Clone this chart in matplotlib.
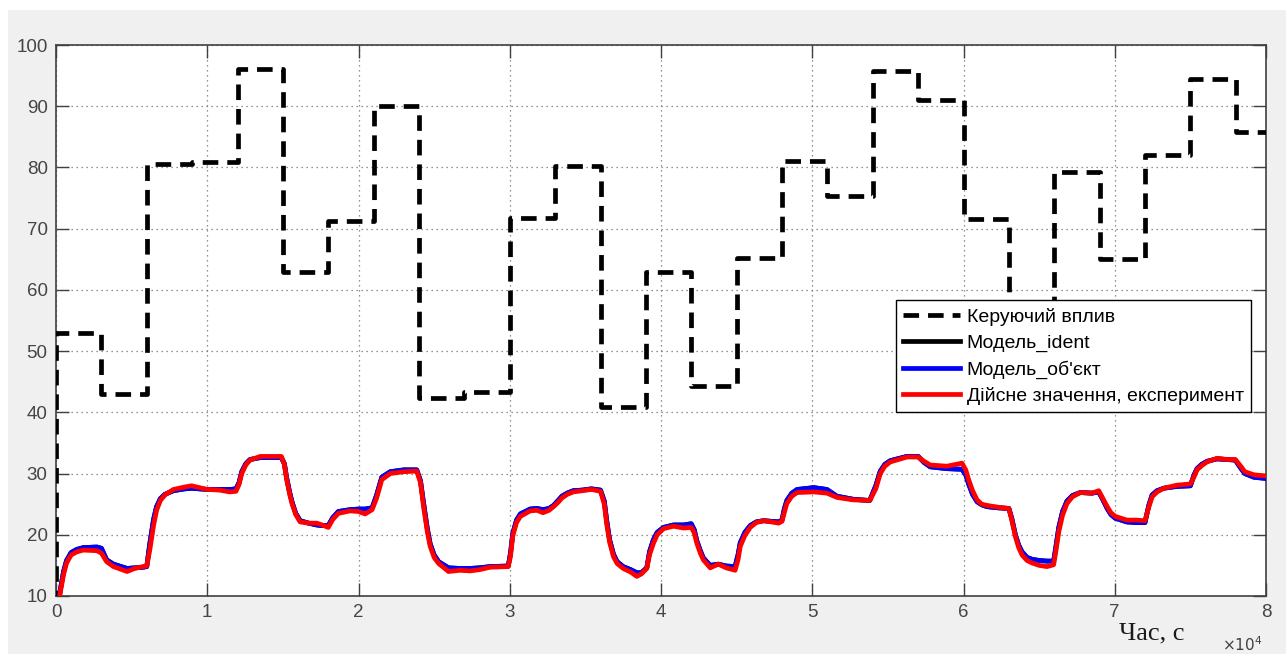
import matplotlib
matplotlib.use("Agg")
import matplotlib.pyplot as plt
from matplotlib.patches import Rectangle
from matplotlib.lines import Line2D

# ---- data (time in units of 1e4 s) ----
ctrl_t = [0, 0.3, 0.6, 0.9, 1.2, 1.5, 1.8, 2.1, 2.4, 2.7, 3.0, 3.3, 3.6, 3.9,
          4.2, 4.5, 4.8, 5.1, 5.4, 5.7, 6.0, 6.3, 6.6, 6.9, 7.2, 7.5, 7.8]
ctrl_v = [53.0, 43.0, 80.6, 80.9, 96.1, 63.0, 71.3, 90.0, 42.3, 43.3, 71.7, 80.3, 40.8, 63.0,
          44.3, 65.2, 81.1, 75.4, 95.8, 91.0, 71.6, 45.0, 79.2, 65.1, 82.1, 94.5, 85.8]
ctrl_start = 0.0
t_end = 8.0

resp_t = [
    0.015, 0.03, 0.05, 0.07, 0.10, 0.137, 0.18, 0.27, 0.30,
    0.335, 0.38, 0.47, 0.52, 0.575, 0.60,
    0.62, 0.645, 0.665, 0.69, 0.72, 0.776, 0.85, 0.897,
    0.95, 1.0, 1.08, 1.15, 1.19, 1.21, 1.228, 1.255, 1.283, 1.35, 1.49,
    1.51, 1.525, 1.545, 1.56, 1.585, 1.614, 1.67, 1.724, 1.76, 1.80,
    1.83, 1.867, 1.944, 2.00, 2.044, 2.09,
    2.12, 2.154, 2.21, 2.30, 2.385,
    2.41, 2.43, 2.455, 2.474, 2.50, 2.53, 2.595, 2.67,
    2.738, 2.80, 2.87, 2.99,
    3.005, 3.02, 3.045, 3.07, 3.135, 3.18, 3.22, 3.26, 3.29,
    3.32, 3.345, 3.38, 3.42, 3.48, 3.54, 3.60,
    3.625, 3.64, 3.66, 3.686, 3.71, 3.75, 3.80, 3.84, 3.87, 3.906,
    3.925, 3.95, 3.975, 4.017, 4.083, 4.15, 4.20,
    4.22, 4.237, 4.26, 4.28, 4.325, 4.38, 4.43, 4.49,
    4.51, 4.524, 4.555, 4.59, 4.63, 4.678, 4.73, 4.777, 4.80,
    4.815, 4.832, 4.865, 4.90, 5.01, 5.097,
    5.163, 5.27, 5.38,
    5.42, 5.45, 5.48, 5.516, 5.626, 5.70,
    5.74, 5.78, 5.89, 5.99,
    6.015, 6.034, 6.06, 6.09, 6.12, 6.155, 6.23, 6.30,
    6.32, 6.343, 6.365, 6.387, 6.42, 6.453, 6.50, 6.552, 6.596,
    6.612, 6.63, 6.655, 6.684, 6.72, 6.772, 6.85, 6.894,
    6.92, 6.95, 6.975, 7.004, 7.08, 7.14, 7.20,
    7.225, 7.247, 7.28, 7.324, 7.41, 7.50,
    7.525, 7.544, 7.575, 7.61, 7.676, 7.74, 7.797,
    7.83, 7.86, 7.92, 8.0,
]

red_y = [
    8.5, 10.8, 13.5, 15.4, 16.7, 17.2, 17.5, 17.4, 17.0,
    15.6, 14.8, 14.0, 14.5, 14.8, 14.9,
    17.5, 21.5, 24.0, 25.6, 26.5, 27.4, 27.8, 28.0,
    27.7, 27.4, 27.3, 27.0, 27.1, 28.2, 30.0, 31.4, 32.2, 32.8, 32.8,
    31.5, 29.0, 26.6, 25.1, 23.3, 22.1, 21.9, 21.9, 21.6, 21.2,
    22.5, 23.5, 23.9, 23.8, 23.4, 24.1,
    26.0, 29.0, 30.0, 30.3, 30.4,
    28.5, 24.6, 20.5, 18.1, 16.3, 15.3, 14.0, 14.2,
    14.1, 14.3, 14.7, 14.8,
    16.5, 19.8, 22.0, 23.0, 23.9, 24.0, 23.6, 24.0, 24.6,
    25.3, 26.0, 26.6, 27.0, 27.2, 27.4, 27.1,
    25.0, 21.9, 18.8, 16.4, 15.3, 14.5, 13.9, 13.2, 13.6, 14.5,
    16.8, 18.6, 20.0, 21.0, 21.4, 21.1, 21.2,
    20.3, 18.6, 17.0, 15.9, 14.6, 15.2, 14.6, 14.2,
    16.0, 18.1, 19.9, 21.2, 22.0, 22.3, 22.1, 21.9, 22.2,
    23.6, 25.1, 26.3, 26.9, 27.0, 26.8,
    26.1, 25.7, 25.6,
    27.5, 30.0, 31.2, 31.9, 32.7, 32.7,
    32.0, 31.4, 31.2, 31.7,
    30.6, 29.0, 27.2, 25.7, 25.0, 24.8, 24.5, 24.3,
    22.3, 19.7, 17.9, 16.7, 15.8, 15.4, 15.0, 14.8, 15.1,
    17.5, 20.5, 23.2, 25.1, 26.2, 26.9, 26.8, 27.2,
    26.0, 24.6, 23.6, 23.0, 22.4, 22.4, 22.3,
    24.5, 26.2, 27.0, 27.6, 28.1, 28.3,
    29.5, 30.6, 31.3, 31.9, 32.5, 32.3, 32.3,
    31.3, 30.3, 29.8, 29.6,
]

blue_y = [
    8.8, 11.2, 14.0, 15.8, 17.1, 17.6, 17.9, 18.0, 17.8,
    15.9, 15.2, 14.5, 14.6, 14.7, 14.8,
    18.5, 22.5, 24.6, 25.9, 26.6, 27.2, 27.5, 27.6,
    27.5, 27.4, 27.4, 27.4, 27.5, 28.5, 30.3, 31.6, 32.3, 32.6, 32.6,
    31.6, 29.3, 26.9, 25.4, 23.5, 22.3, 21.9, 21.6, 21.5, 21.5,
    22.8, 23.8, 24.1, 24.2, 24.2, 24.4,
    26.5, 29.4, 30.3, 30.6, 30.6,
    28.8, 25.2, 21.0, 18.5, 16.7, 15.6, 14.6, 14.5,
    14.5, 14.6, 14.8, 14.9,
    17.0, 20.2, 22.4, 23.4, 24.2, 24.3, 24.1, 24.3, 24.8,
    25.6, 26.3, 26.8, 27.2, 27.3, 27.5, 27.3,
    25.5, 22.5, 19.2, 16.8, 15.6, 14.8, 14.3, 13.8, 13.8, 14.6,
    17.3, 19.2, 20.4, 21.2, 21.6, 21.6, 21.8,
    20.8, 19.0, 17.4, 16.2, 15.0, 15.2, 14.9, 14.8,
    16.8, 18.7, 20.4, 21.5, 22.1, 22.3, 22.2, 22.1, 22.4,
    24.2, 25.6, 26.8, 27.4, 27.7, 27.4,
    26.3, 25.8, 25.6,
    28.0, 30.4, 31.5, 32.1, 32.8, 32.8,
    31.8, 31.1, 30.8, 30.7,
    29.8, 28.3, 26.6, 25.4, 24.9, 24.6, 24.4, 24.3,
    22.6, 20.0, 18.3, 17.2, 16.3, 16.0, 15.8, 15.7, 15.7,
    18.2, 21.2, 23.8, 25.5, 26.4, 26.9, 26.8, 27.0,
    25.8, 24.3, 23.3, 22.7, 22.1, 22.0, 22.0,
    24.8, 26.5, 27.2, 27.6, 27.9, 28.0,
    29.8, 30.8, 31.5, 32.0, 32.4, 32.3, 32.2,
    31.0, 30.0, 29.4, 29.2,
]
ident_y = blue_y  # identified model coincides with the object model

x_ticks = [0, 1, 2, 3, 4, 5, 6, 7, 8]
y_ticks = [10, 20, 30, 40, 50, 60, 70, 80, 90, 100]
labels = ["Керуючий вплив", "Модель_ident", "Модель_об'єкт", "Дійсне значення, експеримент"]

# ---- figure ----
W, H = 1286, 654
fig = plt.figure(figsize=(W / 100, H / 100), dpi=100, facecolor="white")
fig.add_artist(Rectangle((8 / W, 0), 1 - 8 / W, (H - 10) / H, transform=fig.transFigure,
                         facecolor="#f0f0f0", edgecolor="none", zorder=-10))

ax = fig.add_axes([56 / W, (H - 596) / H, (1266 - 56) / W, (596 - 45) / H])
ax.set_facecolor("white")

dash = (0, (3.3, 1.9))
cx = [ctrl_start] + ctrl_t + [t_end]
cy = [0.0] + ctrl_v + [ctrl_v[-1]]
ax.plot(cx, cy, drawstyle="steps-post", color="black", lw=3.4,
        linestyle=dash, zorder=3)
ax.plot(resp_t, ident_y, color="black", lw=3.4, zorder=3)
ax.plot(resp_t, blue_y, color="#0000ff", lw=3.4, zorder=4)
ax.plot(resp_t, red_y, color="#ff0000", lw=3.4, zorder=5)

ax.set_xlim(0, 8)
ax.set_ylim(10, 100)
ax.set_xticks(x_ticks)
ax.set_yticks(y_ticks)
ax.set_xticklabels([str(v) for v in x_ticks])
ax.set_yticklabels([str(v) for v in y_ticks])
ax.grid(True, color="#707070", linestyle=(0, (1, 3)), lw=0.9)
ax.tick_params(direction="in", length=9.5, width=1.0, color="#404040",
               top=True, right=True, labelsize=13.5, labelcolor="#454545", pad=6)
for lab in ax.get_xticklabels() + ax.get_yticklabels():
    lab.set_family("Liberation Sans")
for sp in ax.spines.values():
    sp.set_color("#404040")
    sp.set_linewidth(1.2)

ax.text(0.933, -0.068, "Час, с", transform=ax.transAxes, ha="right", va="center",
        fontsize=19, family="Liberation Serif", color="#1a1a1a")
ax.text(0.9967, -0.1, r"$\times10^{4}$", transform=ax.transAxes, ha="right", va="baseline",
        fontsize=11, color="#404040")

handles = [
    Line2D([], [], color="black", lw=3.4, linestyle=dash),
    Line2D([], [], color="black", lw=3.4),
    Line2D([], [], color="#0000ff", lw=3.4),
    Line2D([], [], color="#ff0000", lw=3.4),
]
leg = ax.legend(handles, labels, loc="upper right", bbox_to_anchor=(0.988, 0.537),
                prop={"family": "Liberation Sans", "size": 14}, frameon=True,
                fancybox=False, framealpha=1, edgecolor="black", handlelength=2.9,
                labelspacing=0.42, borderpad=0.4, handletextpad=0.35, borderaxespad=0)
leg.get_frame().set_linewidth(1.0)
leg.set_zorder(10)

fig.savefig("out.png", dpi=100, facecolor=fig.get_facecolor())
